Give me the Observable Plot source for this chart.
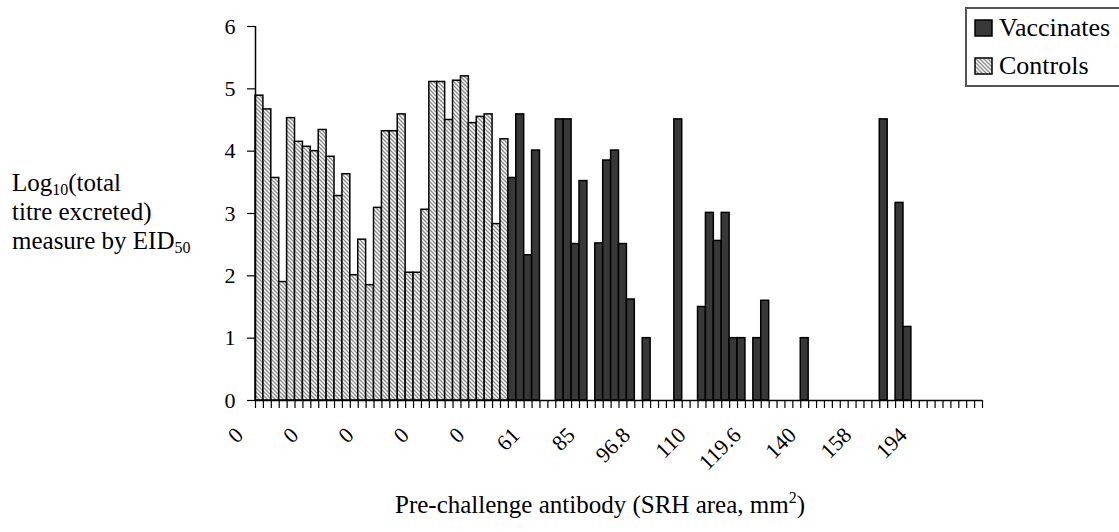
<!DOCTYPE html>
<html>
<head>
<meta charset="utf-8">
<script src="https://cdn.jsdelivr.net/npm/d3@7"></script>
<script src="https://cdn.jsdelivr.net/npm/@observablehq/plot@0.6"></script>
<style>
  html, body { margin: 0; padding: 0; background: #fff; }
  #wrap { position: relative; width: 1119px; height: 532px; overflow: hidden; font-family: "Liberation Serif", "Times New Roman", serif; color: #000; }
  #wrap svg.plot { position: absolute; left: 0; top: 0; }
  #wrap svg.plot text { font-family: "Liberation Serif", "Times New Roman", serif; font-size: 22px; fill: #000; }
  .ylab { position: absolute; left: 12px; top: 168px; font-size: 25px; line-height: 29px; white-space: nowrap; }
  .xlab { position: absolute; left: 0; width: 1200px; text-align: center; top: 490px; font-size: 25px; line-height: 29px; white-space: nowrap; }
  .ylab sub { font-size: 16px; vertical-align: -4px; line-height: 0; }
  .xlab sup { font-size: 16px; vertical-align: 10px; line-height: 0; }
  .legend { position: absolute; left: 965px; top: 7px; width: 180px; height: 76px; border: 2px solid #555; background: #fff; font-size: 26px; }
  .legend .row { position: absolute; left: 7px; display: flex; align-items: center; white-space: nowrap; }
  .legend .row svg { margin-right: 6px; }
</style>
</head>
<body>
<div id="wrap"></div>
<script>
// Log10 titre excreted, one value per bird; controls first, then vaccinates
// (null = empty slot on the category axis)
const controls = [
  4.89, 4.67, 3.57, 1.90, 4.53, 4.15, 4.07, 4.00, 4.34, 3.91, 3.28, 3.63,
  2.01, 2.58, 1.85, 3.09, 4.32, 4.32, 4.59, 2.05, 2.05, 3.06, 5.11, 5.11,
  4.50, 5.13, 5.20, 4.45, 4.55, 4.59, 2.83, 4.19
];
const vaccinates = [
  3.57, 4.59, 2.33, 4.01, null, null, 4.51, 4.51, 2.51, 3.52, null, 2.52,
  3.85, 4.01, 2.51, 1.62, null, 1.00, null, null, null, 4.51, null, null,
  1.50, 3.01, 2.56, 3.01, 1.00, 1.00, null, 1.00, 1.60, null, null, null,
  null, 1.00, null, null, null, null, null, null, null, null, null, 4.51,
  null, 3.17, 1.18, null, null, null, null, null, null, null, null, null
];
// Category labels shown on every seventh slot
const tickLabels = ["0", "0", "0", "0", "0", "61", "85", "96.8", "110", "119.6", "140", "158", "194"];
const labelStep = 7;
const yTicks = [0, 1, 2, 3, 4, 5, 6];

const seriesNames = ["Vaccinates", "Controls"];
const vaccFill = "#383838";

const rows = [
  ...controls.map((v, i) => ({slot: i, value: v, group: "Controls"})),
  ...vaccinates.map((v, i) => ({slot: controls.length + i, value: v, group: "Vaccinates"}))
].filter(d => d.value != null);
const slotCount = controls.length + vaccinates.length;
const labelRows = tickLabels.map((t, i) => ({pos: i * labelStep + 0.5, text: t}));

const plot = Plot.plot({
  width: 1119,
  height: 532,
  marginLeft: 255,
  marginRight: 137,
  marginTop: 26,
  marginBottom: 132,
  style: {fontFamily: "'Liberation Serif', 'Times New Roman', serif", fontSize: "22px", color: "#000", background: "transparent", overflow: "visible"},
  x: {domain: [0, slotCount]},
  y: {domain: [0, 6]},
  marks: [
    Plot.rectY(rows, {
      x1: "slot",
      x2: d => d.slot + 1,
      y: "value",
      fill: d => d.group === "Controls" ? "url(#hatch)" : vaccFill,
      stroke: "#000",
      strokeWidth: 1.5
    }),
    Plot.ruleX([0], {stroke: "#000", strokeWidth: 1.5}),
    Plot.ruleY([0], {stroke: "#000", strokeWidth: 1.5}),
    Plot.axisY({ticks: yTicks, tickFormat: d3.format("d"), tickSize: 8, tickPadding: 12, fontSize: 22, label: null, stroke: "#000", strokeWidth: 1.2}),
    Plot.axisX({ticks: d3.range(0, slotCount + 1), tickSize: 8, tickFormat: () => "", label: null, stroke: "#000", strokeWidth: 1.2}),
    Plot.text(labelRows, {
      x: "pos",
      y: 0,
      text: "text",
      rotate: -45,
      textAnchor: "end",
      lineAnchor: "middle",
      dx: -20,
      dy: 31,
      fontSize: 22,
      fill: "#000"
    })
  ]
});

// Hatch pattern for the control bars
const hatchDefs = `
  <pattern id="hatch" patternUnits="userSpaceOnUse" width="4" height="4">
    <rect width="4" height="4" fill="#fff"/>
    <path d="M-1,-1 L5,5 M-1,3 L1,5 M3,-1 L5,1" stroke="#8a8a8a" stroke-width="1.3"/>
  </pattern>`;
const defs = document.createElementNS("http://www.w3.org/2000/svg", "defs");
defs.innerHTML = hatchDefs;
plot.insertBefore(defs, plot.firstChild);
plot.classList.add("plot");

const wrap = document.getElementById("wrap");
wrap.appendChild(plot);

// Axis titles
const ylab = document.createElement("div");
ylab.className = "ylab";
ylab.innerHTML = "Log<sub>10</sub>(total<br>titre excreted)<br>measure by EID<sub>50</sub>";
wrap.appendChild(ylab);

const xlab = document.createElement("div");
xlab.className = "xlab";
xlab.innerHTML = "Pre-challenge antibody (SRH area, mm<sup>2</sup>)";
wrap.appendChild(xlab);

// Legend
const legend = document.createElement("div");
legend.className = "legend";
const swatch = (name) => name === "Controls"
  ? `<svg width="19" height="18"><defs>${hatchDefs.replace('id="hatch"', 'id="hatchL"')}</defs><rect x="1" y="1" width="17" height="16" fill="url(#hatchL)" stroke="#000" stroke-width="1.5"/></svg>`
  : `<svg width="19" height="18"><rect x="1" y="1" width="17" height="16" fill="${vaccFill}" stroke="#000" stroke-width="1.5"/></svg>`;
seriesNames.forEach((name, i) => {
  const row = document.createElement("div");
  row.className = "row";
  row.style.top = (i === 0 ? 4 : 42) + "px";
  row.innerHTML = swatch(name) + `<span>${name}</span>`;
  legend.appendChild(row);
});
wrap.appendChild(legend);
</script>
</body>
</html>
